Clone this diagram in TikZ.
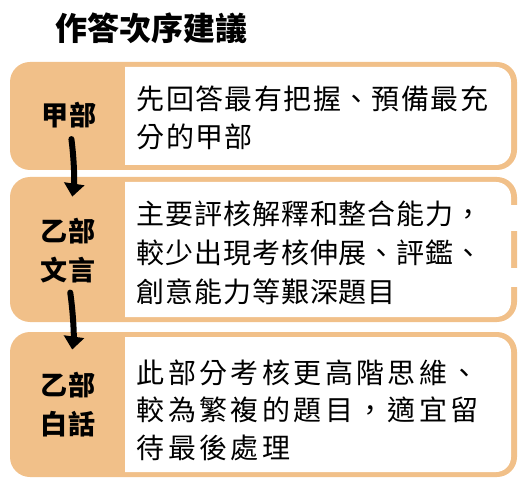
\documentclass[tikz,border=0pt]{standalone}
\usepackage{fontspec}
\setmainfont{Noto Sans CJK TC}
\usetikzlibrary{arrows.meta, positioning}
% spread the characters of one line
\newcommand\spaced[2]{\def\spacedkern{#1}\spacedloop#2\relax}
\def\spacedloop#1{\ifx\relax#1\else#1\kern\spacedkern\expandafter\spacedloop\fi}

\begin{document}
\begin{tikzpicture}[x=1pt, y=-1pt, font=\fontsize{28}{38}\selectfont]

    % --- DEFINITIONS ---
    \definecolor{partfill}{RGB}{241,192,137}
    \tikzset{
        partlabel/.style={font=\fontsize{27}{39}\selectfont\bfseries, align=center, inner sep=0pt},
        parttext/.style={anchor=west, align=left, inner sep=0pt},
        flowarrow/.style={line width=6pt, line cap=round, -{Triangle[length=13pt, width=20pt]}, bend left=8}
    }
    \useasboundingbox (0,0) rectangle (530,494);

    % --- TITLE ---
    \node[font=\fontsize{32}{32}\selectfont\bfseries] (title) at (151,28) {作答次序建議};

    % --- PANELS ---
    \foreach \ptop/\pbot in {62/170, 177/322, 332/477} {
        \fill[partfill, rounded corners=20pt] (10,\ptop) rectangle (517,\pbot);
        \begin{scope}
            \clip (125,0) rectangle (530,494);
            \fill[white, rounded corners=15pt] (100,\ptop+5) rectangle (511,\pbot-5);
        \end{scope}
    }
    % breaks in the second border
    \draw[white, line width=7pt] (514,205) -- (514,231) (514,268) -- (514,287);

    % Part names
    \node[partlabel] (jia) at (70,115) {\spaced{2pt}{甲部}};
    \node[partlabel] (yiwen) at (69,251) {\spaced{2pt}{乙部}\\\spaced{2pt}{文言}};
    \node[partlabel] (yibai) at (69,405) {\spaced{2pt}{乙部}\\\spaced{2pt}{白話}};

    % Advice texts
    \node[parttext, font=\fontsize{28}{38}\selectfont] (txtjia) at (136.5,118)
        {\spaced{1.4pt}{先回答最有把握、預備最充}\\\spaced{1.4pt}{分的甲部}};
    \node[parttext, font=\fontsize{28}{39}\selectfont] (txtyiwen) at (136.5,253)
        {\spaced{0.9pt}{主要評核解釋和整合能力，}\\\spaced{0.9pt}{較少出現考核伸展、評鑑、}\\\spaced{0.9pt}{創意能力等艱深題目}};
    \node[parttext, font=\fontsize{28}{37.5}\selectfont] (txtyibai) at (136.5,410)
        {\spaced{3.4pt}{此部分考核更高階思維、}\\\spaced{3.4pt}{較為繁複的題目，適宜留}\\\spaced{3.4pt}{待最後處理}};

    % --- ORDER ARROWS ---
    \draw[flowarrow, shorten <=11pt, shorten >=22pt] (jia.south) to (yiwen.north);
    \draw[flowarrow, shorten <=9pt, shorten >=23pt] (yiwen.south) to (yibai.north);
\end{tikzpicture}
\end{document}
